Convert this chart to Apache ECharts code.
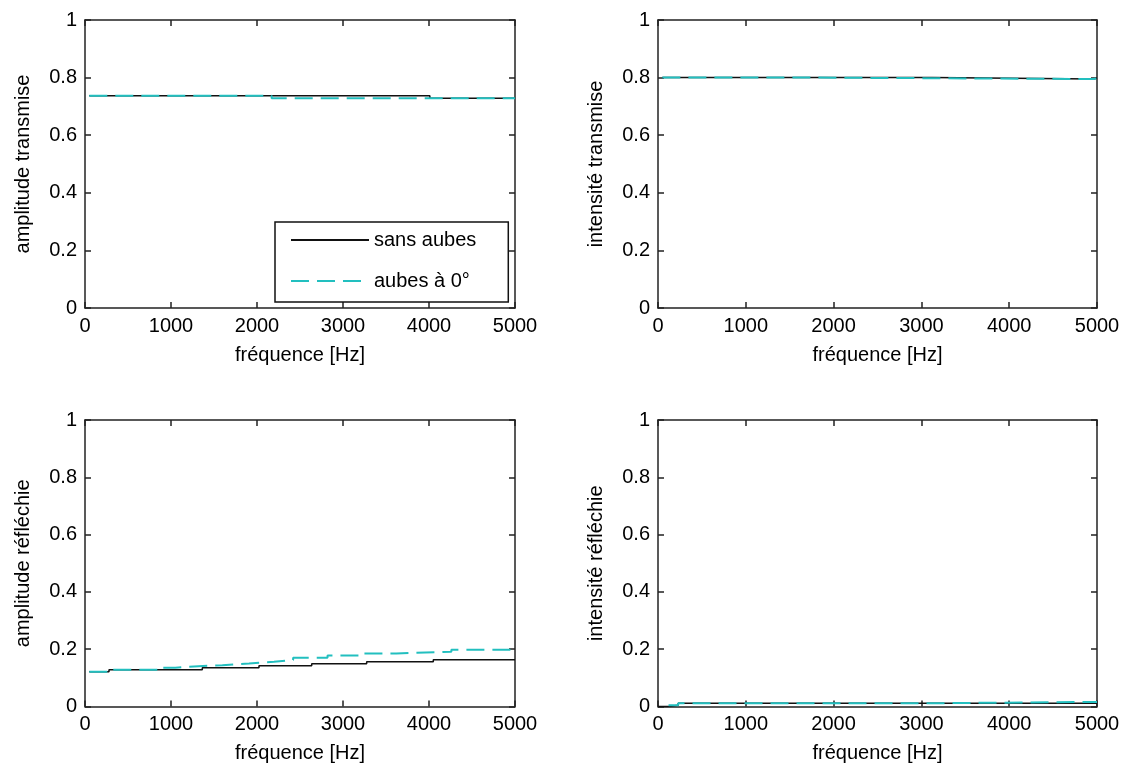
<!DOCTYPE html>
<html>
<head>
<meta charset="utf-8">
<script src="https://cdn.jsdelivr.net/npm/echarts@6/dist/echarts.min.js"></script>
<style>
html,body{margin:0;padding:0;background:#fff;}
#chart{width:1125px;height:769px;}
</style>
</head>
<body>
<div id="chart"></div>
<script>
// ---- data (step breakpoints: frequency in Hz, value held until next breakpoint) ----
const seriesNames = ['sans aubes', 'aubes à 0°'];
const xLabel = 'fréquence [Hz]';
const yLabels = ['amplitude transmise', 'intensité transmise', 'amplitude réfléchie', 'intensité réfléchie'];

// top-left: amplitude transmise
const atFreqSans = [50, 4010, 5000];
const atValSans  = [0.737, 0.728, 0.728];
const atFreqAub  = [50, 2170, 5000];
const atValAub   = [0.737, 0.728, 0.728];

// top-right: intensité transmise
const itFreqSans = [50, 3120, 4960, 5000];
const itValSans  = [0.800, 0.795, 0.798, 0.798];
const itFreqAub  = [50, 1810, 4960, 5000];
const itValAub   = [0.800, 0.795, 0.798, 0.798];

// bottom-left: amplitude réfléchie
const arFreqSans = [50, 279, 1364, 2023, 2636, 3275, 4050, 5000];
const arValSans  = [0.121, 0.128, 0.135, 0.142, 0.149, 0.156, 0.163, 0.163];
const arFreqAub  = [50, 270, 860, 1050, 1267, 1597, 1907, 2198, 2420, 2820, 3200, 3620, 4260, 5000];
const arValAub   = [0.121, 0.128, 0.135, 0.140, 0.144, 0.150, 0.156, 0.162, 0.170, 0.178, 0.185, 0.191, 0.198, 0.198];

// bottom-right: intensité réfléchie
const irFreqSans = [0, 130, 230, 5000];
const irValSans  = [0.000, 0.004, 0.011, 0.011];
const irFreqAub  = [120, 230, 2980, 5000];
const irValAub   = [0.004, 0.011, 0.016, 0.016];

const xTicks = {min: 0, max: 5000, interval: 1000};
const yTicks = {min: 0, max: 1, interval: 0.2};

// ---- layout / style ----
const FONT = 'Liberation Sans, Arial, sans-serif';
const FS = 20;
const grids = [
  {left: 85,  top: 20,  width: 430, height: 288},
  {left: 658, top: 20,  width: 439, height: 288},
  {left: 85,  top: 420, width: 430, height: 286.5},
  {left: 658, top: 420, width: 439, height: 286.5}
];
const BLACK = '#111';
const CYAN = '#22bfbf';

function pairs(fr, v){ return fr.map((f,i)=>[f, v[i]]); }

const axisLine = {show: true, onZero: false, lineStyle: {color: '#222', width: 1.5}};
const tick = {show: true, inside: true, length: 6, lineStyle: {color: '#222', width: 1.5}};

const xAxis = [], yAxis = [], series = [];
grids.forEach((g, i) => {
  xAxis.push({
    gridIndex: i, type: 'value', position: 'bottom', ...xTicks,
    axisLine, axisTick: tick, splitLine: {show: false},
    axisLabel: {color: '#000', fontSize: FS, fontFamily: FONT, margin: 8, formatter: v => String(v)},
    name: xLabel, nameLocation: 'middle', nameGap: 37,
    nameTextStyle: {color: '#000', fontSize: FS, fontFamily: FONT}
  });
  xAxis.push({
    gridIndex: i, type: 'value', position: 'top', ...xTicks,
    axisLine, axisTick: tick, splitLine: {show: false}, axisLabel: {show: false}
  });
  yAxis.push({
    gridIndex: i, type: 'value', position: 'left', ...yTicks,
    axisLine, axisTick: tick, splitLine: {show: false},
    axisLabel: {color: '#000', fontSize: FS, fontFamily: FONT, margin: 8, formatter: v => String(v)},
    name: yLabels[i], nameLocation: 'middle', nameGap: 52, nameRotate: 90,
    nameTextStyle: {color: '#000', fontSize: FS, fontFamily: FONT}
  });
  yAxis.push({
    gridIndex: i, type: 'value', position: 'right', ...yTicks,
    axisLine, axisTick: tick, splitLine: {show: false}, axisLabel: {show: false}
  });
});

const dataSets = [
  [pairs(atFreqSans, atValSans), pairs(atFreqAub, atValAub)],
  [pairs(itFreqSans, itValSans), pairs(itFreqAub, itValAub)],
  [pairs(arFreqSans, arValSans), pairs(arFreqAub, arValAub)],
  [pairs(irFreqSans, irValSans), pairs(irFreqAub, irValAub)]
];

dataSets.forEach((ds, i) => {
  series.push({
    name: seriesNames[0], type: 'line', step: 'end',
    xAxisIndex: 2*i, yAxisIndex: 2*i, data: ds[0],
    showSymbol: false, symbol: 'none', z: 2,
    lineStyle: {color: BLACK, width: 1.5, type: 'solid'},
    itemStyle: {color: BLACK}
  });
  series.push({
    name: seriesNames[1], type: 'line', step: 'end',
    xAxisIndex: 2*i, yAxisIndex: 2*i, data: ds[1],
    showSymbol: false, symbol: 'none', z: 3,
    lineStyle: {color: CYAN, width: 2, type: [18, 8]},
    itemStyle: {color: CYAN}
  });
});

const chart = echarts.init(document.getElementById('chart'), null, {renderer: 'canvas'});
chart.setOption({
  animation: false,
  backgroundColor: '#fff',
  grid: grids.map(g => ({...g, containLabel: false})),
  xAxis, yAxis, series,
  legend: {
    data: seriesNames,
    orient: 'vertical',
    left: 275, top: 222,
    itemWidth: 78, itemHeight: 14, itemGap: 21,
    padding: [8, 32, 11, 15],
    borderColor: '#111', borderWidth: 1.5,
    backgroundColor: '#fff',
    selectedMode: false,
    itemStyle: {color: 'rgba(0,0,0,0)', borderColor: 'rgba(0,0,0,0)', borderWidth: 0, opacity: 0},
    textStyle: {color: '#000', fontSize: FS, fontFamily: FONT}
  }
});
</script>
</body>
</html>
